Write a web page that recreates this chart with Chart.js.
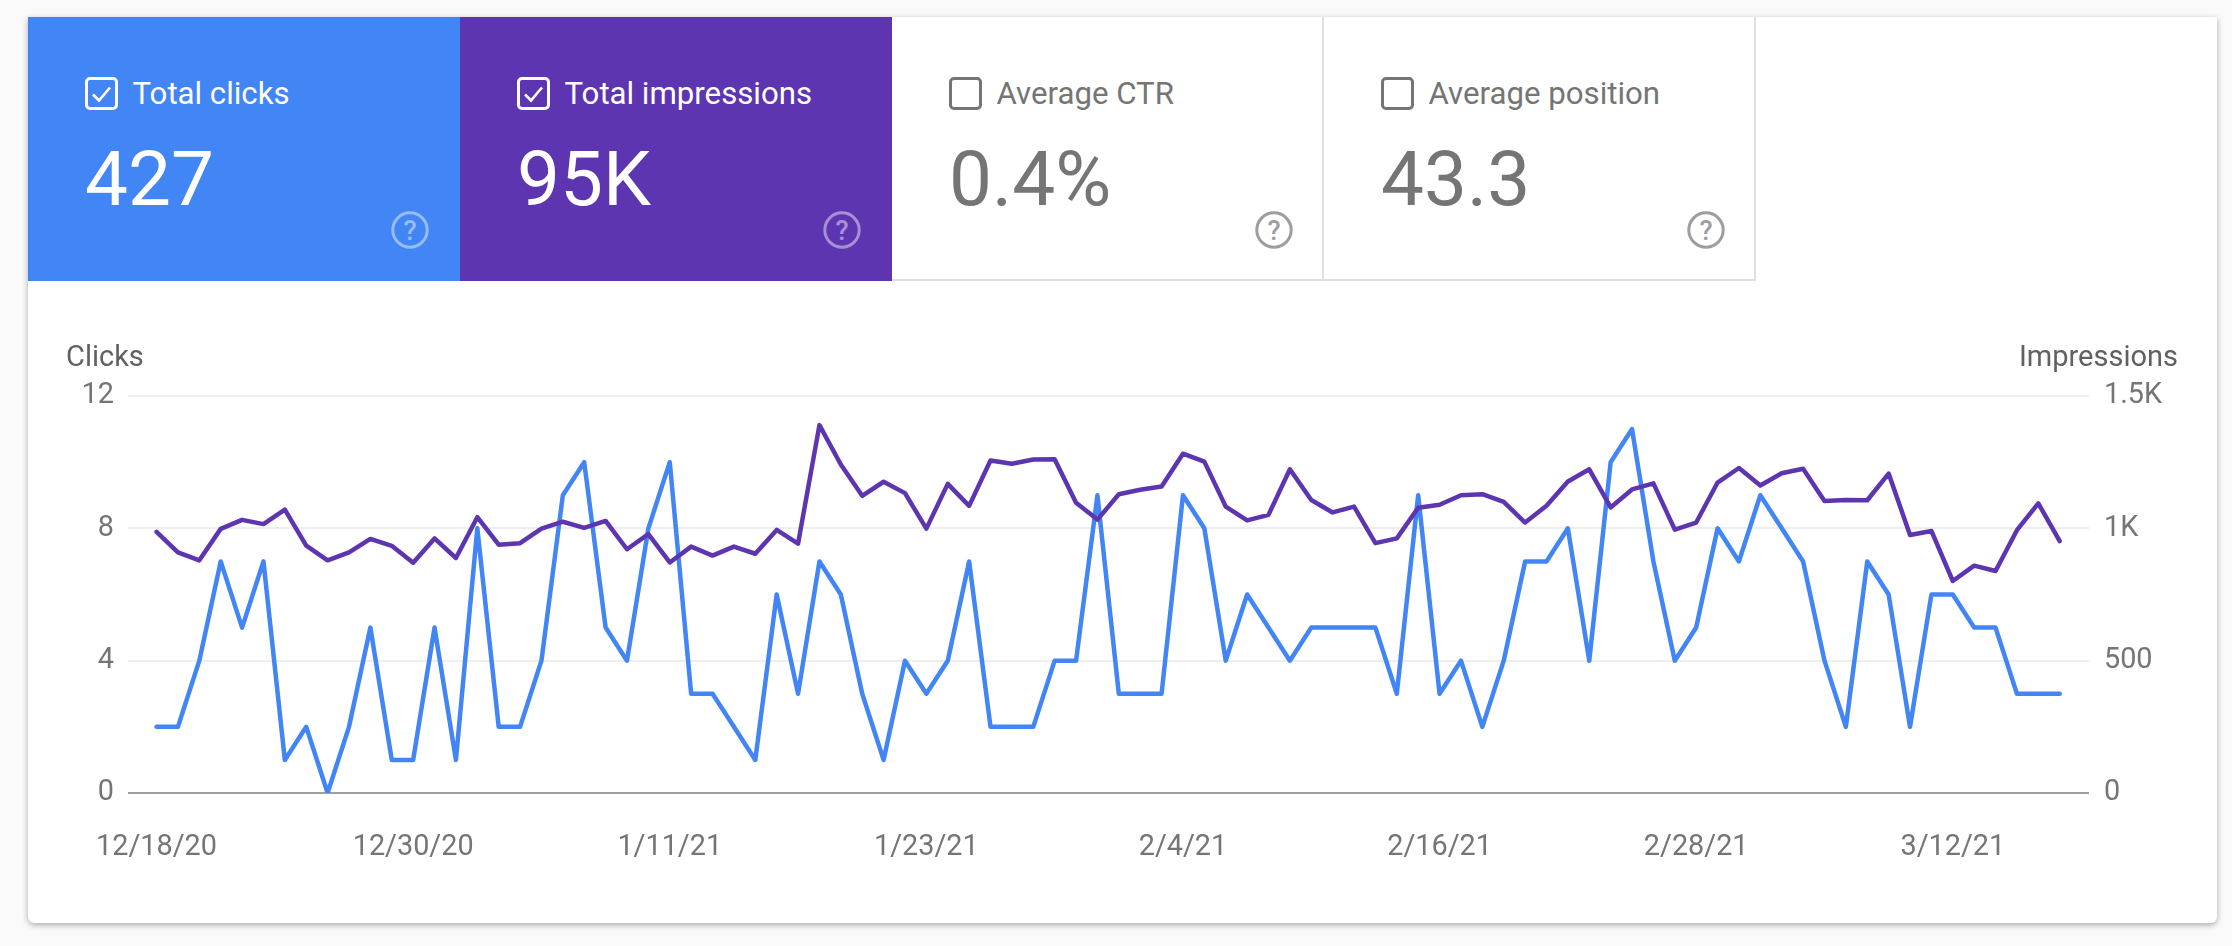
<!DOCTYPE html>
<html>
<head>
<meta charset="utf-8">
<script src="https://cdn.jsdelivr.net/npm/chart.js@4"></script>
<style>
html,body{margin:0;padding:0;background:#fafafa;width:2232px;height:946px;overflow:hidden;font-family:Roboto,sans-serif}
#card{position:absolute;left:28px;top:17px;width:2189px;height:906px;background:#fff;border-radius:0 0 6px 6px;box-shadow:0 2px 6px rgba(0,0,0,.32)}
canvas{position:absolute;left:0;top:0}
.tile{position:absolute;top:17px;height:264px;box-sizing:border-box}
.label{position:absolute;left:104.5px;top:58.5px;font-size:31.2px;line-height:36px;white-space:nowrap}
.num{position:absolute;left:57px;top:120px;font-size:76.5px;line-height:84px;white-space:nowrap}
.cb{position:absolute;left:57px;top:60px;width:33px;height:33px}
.help{position:absolute;left:363px;top:194px;width:38px;height:38px}
.axt{position:absolute;font-size:29px;line-height:34px;color:#616161;white-space:nowrap}
</style>
</head>
<body>
<div id="card"></div>
<canvas id="c" width="2232" height="946" style="width:2232px;height:946px"></canvas>
<div id="tiles"></div>
<div class="axt" style="left:66px;top:339px">Clicks</div>
<div class="axt" style="right:54px;top:339px">Impressions</div>
<script>
const categories = ["12/18/20","12/19/20","12/20/20","12/21/20","12/22/20","12/23/20","12/24/20","12/25/20","12/26/20","12/27/20","12/28/20","12/29/20","12/30/20","12/31/20",
"1/1/21","1/2/21","1/3/21","1/4/21","1/5/21","1/6/21","1/7/21","1/8/21","1/9/21","1/10/21","1/11/21","1/12/21","1/13/21","1/14/21","1/15/21","1/16/21","1/17/21","1/18/21","1/19/21","1/20/21","1/21/21","1/22/21","1/23/21","1/24/21","1/25/21","1/26/21","1/27/21","1/28/21","1/29/21","1/30/21","1/31/21",
"2/1/21","2/2/21","2/3/21","2/4/21","2/5/21","2/6/21","2/7/21","2/8/21","2/9/21","2/10/21","2/11/21","2/12/21","2/13/21","2/14/21","2/15/21","2/16/21","2/17/21","2/18/21","2/19/21","2/20/21","2/21/21","2/22/21","2/23/21","2/24/21","2/25/21","2/26/21","2/27/21","2/28/21",
"3/1/21","3/2/21","3/3/21","3/4/21","3/5/21","3/6/21","3/7/21","3/8/21","3/9/21","3/10/21","3/11/21","3/12/21","3/13/21","3/14/21","3/15/21","3/16/21","3/17/21"];
const clicks = [2,2,4,7,5,7,1,2,0,2,5,1,1,5,1,8,2,2,4,9,10,5,4,8,10,3,3,2,1,6,3,7,6,3,1,4,3,4,7,2,2,2,4,4,9,3,3,3,9,8,4,6,5,4,5,5,5,5,3,9,3,4,2,4,7,7,8,4,10,11,7,4,5,8,7,9,8,7,4,2,7,6,2,6,6,5,5,3,3,3];
const impressions = [987,909,879,998,1032,1016,1071,935,879,909,960,934,870,962,888,1042,938,944,999,1025,1002,1028,921,978,871,931,897,931,904,994,942,1390,1241,1123,1176,1133,999,1168,1085,1256,1244,1260,1261,1097,1033,1129,1146,1158,1282,1252,1082,1030,1051,1223,1107,1060,1082,944,962,1078,1089,1125,1129,1100,1022,1085,1177,1223,1079,1147,1170,995,1022,1173,1228,1162,1208,1225,1103,1107,1106,1207,975,990,801,859,839,993,1094,952];
const xTickDates = ["12/18/20","12/30/20","1/11/21","1/23/21","2/4/21","2/16/21","2/28/21","3/12/21"];
const clickTicks = [0,4,8,12];
const impressionTicks = [0,500,1000,1500];
const impressionTickLabels = ["0","500","1K","1.5K"];
const tileNames = ["Total clicks","Total impressions","Average CTR","Average position"];
const tileValues = ["427","95K","0.4%","43.3"];

const tileStyles = [
 {left:28,width:432,bg:'#4285f4',fg:'#fff',on:true},
 {left:460,width:432,bg:'#5e35b1',fg:'#fff',on:true},
 {left:892,width:432,bg:'#fff',fg:'#757575',on:false},
 {left:1324,width:432,bg:'#fff',fg:'#757575',on:false}
];
document.getElementById('tiles').innerHTML = tileNames.map((n,i)=>{
  const s = tileStyles[i];
  const border = s.on ? '' : 'border-right:2px solid #e0e0e0;border-bottom:2px solid #e0e0e0;';
  const box = `<svg class="cb" viewBox="0 0 33 33"><rect x="1.5" y="1.5" width="30" height="30" rx="3.5" fill="none" stroke="${s.fg}" stroke-width="3"/>${s.on?`<path d="M8 17.5l6 6 11-13" fill="none" stroke="${s.fg}" stroke-width="2.6"/>`:''}</svg>`;
  const col = s.on?'#fff':'#9e9e9e';
  const help = `<svg class="help" viewBox="0 0 38 38" style="opacity:${s.on?.45:1}"><circle cx="19" cy="19" r="17.2" fill="none" stroke="${col}" stroke-width="3"/><text x="19" y="28.5" text-anchor="middle" font-family="Roboto" font-size="27" font-weight="500" fill="${col}">?</text></svg>`;
  return `<div class="tile" style="left:${s.left}px;width:${s.width}px;background:${s.bg};color:${s.fg};${border}">${box}<span class="label">${n}</span><span class="num">${tileValues[i]}</span>${help}</div>`;
}).join('');

const tickFont = {family:'Roboto',size:28.8};
new Chart(document.getElementById('c'),{
  type:'line',
  data:{datasets:[
    {label:'Impressions',yAxisID:'y1',data:impressions.map((v,i)=>({x:i,y:v})),borderColor:'#5e35b1',borderWidth:4.5,pointRadius:0,tension:0,borderJoinStyle:'round',borderCapStyle:'round'},
    {label:'Clicks',yAxisID:'y',data:clicks.map((v,i)=>({x:i,y:v})),borderColor:'#4285f4',borderWidth:4.5,pointRadius:0,tension:0,borderJoinStyle:'round',borderCapStyle:'round'}
  ]},
  options:{
    responsive:false,animation:false,devicePixelRatio:1,
    layout:{autoPadding:false,padding:{top:396,left:0,right:0,bottom:0}},
    plugins:{legend:{display:false},tooltip:{enabled:false},title:{display:false}},
    scales:{
      x:{type:'linear',min:-1.335,max:90.37,
        grid:{display:false},border:{display:false},
        afterBuildTicks(s){s.ticks=xTickDates.map(d=>({value:categories.indexOf(d)}));},
        afterFit(s){s.height=153;},
        ticks:{autoSkip:false,maxRotation:0,minRotation:0,padding:30,color:'#757575',font:tickFont,callback:v=>categories[v]}
      },
      y:{position:'left',min:0,max:12,
        afterBuildTicks(s){s.ticks=clickTicks.map(v=>({value:v}));},
        afterFit(s){s.width=128;},
        border:{display:false},
        grid:{drawTicks:false,lineWidth:2,color:c=>c.tick.value===0?'#9e9e9e':'#eeeeee'},
        ticks:{padding:14,color:'#757575',font:tickFont}
      },
      y1:{position:'right',min:0,max:1500,
        afterBuildTicks(s){s.ticks=impressionTicks.map(v=>({value:v}));},
        afterFit(s){s.width=143;},
        border:{display:false},
        grid:{display:false,drawTicks:false},
        ticks:{padding:15,color:'#757575',font:tickFont,callback:v=>impressionTickLabels[impressionTicks.indexOf(v)]}
      }
    }
  }
});
</script>
</body>
</html>
